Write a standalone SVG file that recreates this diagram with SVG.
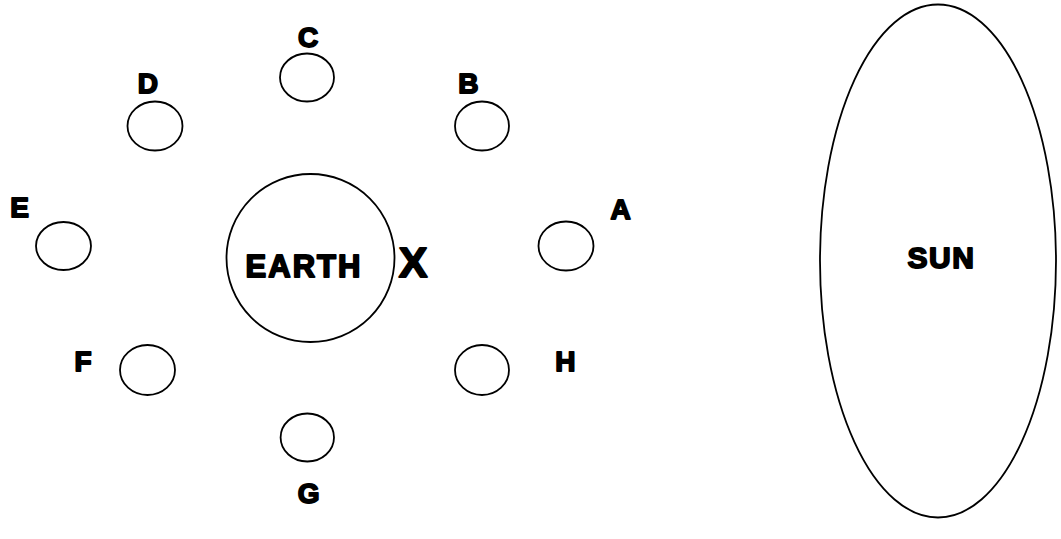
<svg xmlns="http://www.w3.org/2000/svg" width="1061" height="539" viewBox="0 0 1061 539">
<style>
.b{fill:#fff;stroke:#000;stroke-width:1.8}
.t{font-family:"Liberation Sans",Arial,sans-serif;font-weight:bold;fill:#000;stroke:#000;stroke-width:1.8;stroke-linejoin:round;text-anchor:middle}
.l{font-size:28px}
</style>
<rect width="1061" height="539" fill="#fff"/>
<g id="sun"><ellipse class="b" cx="938" cy="261" rx="118" ry="256.5"/><text class="t" x="941.5" y="268.3" font-size="30" letter-spacing="1.5">SUN</text></g>
<g id="earth"><circle class="b" cx="310.5" cy="258" r="84"/><text class="t" x="304" y="276.7" font-size="31" letter-spacing="2">EARTH</text></g>
<g id="x"><text class="t" x="413" y="276.7" font-size="43">X</text></g>
<g id="moonA"><ellipse class="b" cx="566" cy="246" rx="27.5" ry="24.5"/><text class="t l" x="620.5" y="219.3">A</text></g>
<g id="moonB"><ellipse class="b" cx="482" cy="126" rx="27" ry="24.5"/><text class="t l" x="468.3" y="92.7">B</text></g>
<g id="moonC"><ellipse class="b" cx="307" cy="77.5" rx="27" ry="24"/><text class="t l" x="308" y="47.3">C</text></g>
<g id="moonD"><ellipse class="b" cx="155" cy="126" rx="27.5" ry="24.5"/><text class="t l" x="147.8" y="92.7">D</text></g>
<g id="moonE"><ellipse class="b" cx="63.5" cy="246" rx="27.5" ry="24"/><text class="t l" x="19.7" y="217.3">E</text></g>
<g id="moonF"><ellipse class="b" cx="147.5" cy="370" rx="27.5" ry="25"/><text class="t l" x="83" y="370.7">F</text></g>
<g id="moonG"><ellipse class="b" cx="307.3" cy="437.5" rx="26.7" ry="24"/><text class="t l" x="308.7" y="503.3">G</text></g>
<g id="moonH"><ellipse class="b" cx="482" cy="370" rx="27" ry="25"/><text class="t l" x="565.3" y="370.7">H</text></g>
<g id="connectors"/>
</svg>
